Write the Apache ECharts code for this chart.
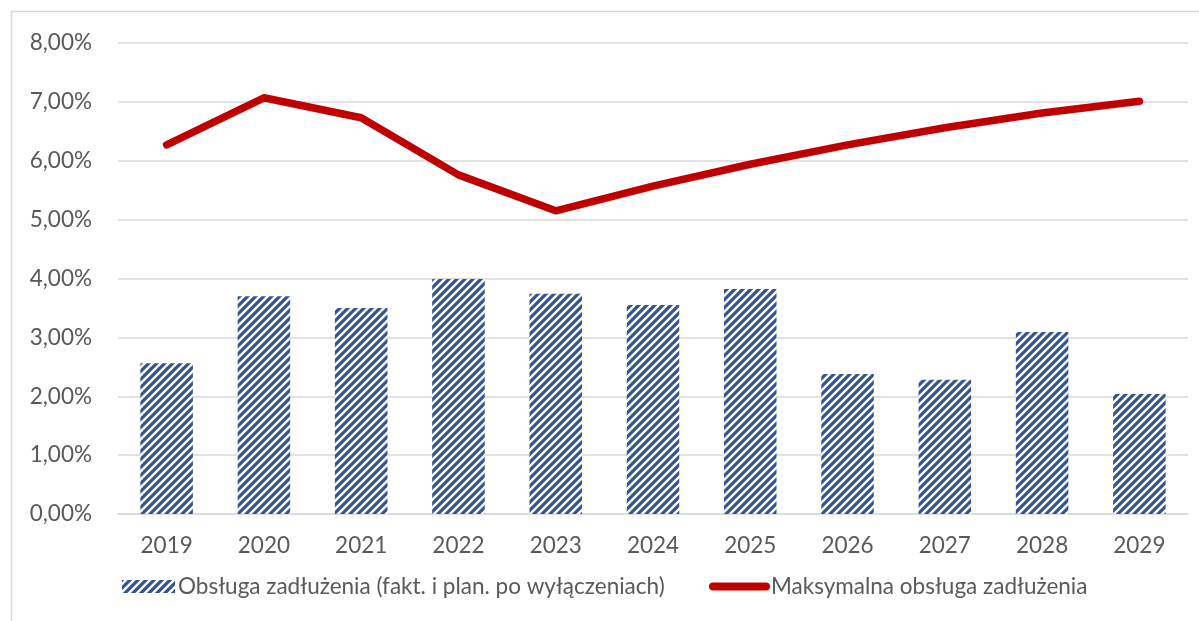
<!DOCTYPE html>
<html>
<head>
<meta charset="utf-8">
<script src="https://cdn.jsdelivr.net/npm/echarts@6/dist/echarts.min.js"></script>
<style>html,body{margin:0;padding:0;background:#fff}#c{width:1199px;height:621px}</style>
</head>
<body>
<div id="c"></div>
<script>
const categories = ['2019','2020','2021','2022','2023','2024','2025','2026','2027','2028','2029'];
const debtService = [2.56, 3.70, 3.50, 3.99, 3.74, 3.55, 3.82, 2.38, 2.28, 3.09, 2.04];
const maxDebtService = [6.27, 7.07, 6.73, 5.76, 5.15, 5.57, 5.94, 6.27, 6.56, 6.81, 7.01];
const yTicks = [0, 1, 2, 3, 4, 5, 6, 7, 8];
const seriesNames = ['Obsługa zadłużenia (fakt. i plan. po wyłączeniach)', 'Maksymalna obsługa zadłużenia'];

function makePattern() {
  const c = document.createElement('canvas');
  c.width = 8; c.height = 8;
  const g = c.getContext('2d');
  g.fillStyle = '#ffffff';
  g.fillRect(0, 0, 8, 8);
  g.strokeStyle = '#2F5597';
  g.lineWidth = 3.2;
  g.beginPath();
  g.moveTo(-2, 10); g.lineTo(10, -2);
  g.moveTo(-6, 6); g.lineTo(6, -6);
  g.moveTo(2, 14); g.lineTo(14, 2);
  g.stroke();
  return c;
}
const pattern = { image: makePattern(), repeat: 'repeat' };
const font = 'Lato, "Open Sans", sans-serif';
const txt = '#595959';
const fs = 22.5;

const chart = echarts.init(document.getElementById('c'), null, { renderer: 'canvas' });
chart.setOption({
  animation: false,
  backgroundColor: '#fff',
  graphic: [{
    type: 'rect', left: 9, top: 9, silent: true,
    shape: { width: 1400, height: 1400 },
    style: { fill: 'none', stroke: '#d9d9d9', lineWidth: 1.5 }
  }],
  grid: { left: 118, right: 11, top: 43, bottom: 107, containLabel: false },
  legend: [{
    data: [{ name: seriesNames[0], icon: 'rect' }],
    left: 122, top: 575, padding: 0,
    itemWidth: 53, itemHeight: 13, itemGap: 3,
    textStyle: { color: txt, fontSize: fs, fontFamily: font, padding: [0, 0, 0, -2] }
  }, {
    data: [{ name: seriesNames[1], icon: 'path://M4,0 H56 A4,4 0 0 1 56,8 H4 A4,4 0 0 1 4,0 Z' }],
    left: 709, top: 575, padding: 0,
    itemWidth: 61, itemHeight: 9,
    textStyle: { color: txt, fontSize: fs, fontFamily: font, padding: [0, 0, 0, -4] }
  }],
  xAxis: {
    type: 'category', data: categories,
    axisLine: { lineStyle: { color: '#d9d9d9', width: 1.5 } },
    axisTick: { show: false },
    axisLabel: { color: txt, fontSize: fs, fontFamily: font, margin: 20 }
  },
  yAxis: {
    type: 'value', min: 0, max: 8, interval: 1,
    axisLine: { show: false }, axisTick: { show: false },
    splitLine: { lineStyle: { color: '#d9d9d9', width: 1.5 } },
    axisLabel: {
      color: txt, fontSize: fs, fontFamily: font, margin: 26,
      formatter: v => yTicks.includes(v) ? v.toFixed(2).replace('.', ',') + '%' : ''
    }
  },
  series: [{
    name: seriesNames[0], type: 'bar', data: debtService,
    barWidth: '54%',
    itemStyle: { color: pattern }
  }, {
    name: seriesNames[1], type: 'line', data: maxDebtService,
    color: '#C00000',
    showSymbol: false, symbol: 'none',
    lineStyle: { color: '#C00000', width: 7.5, cap: 'round', join: 'round' },
    itemStyle: { color: '#C00000' }
  }]
});
</script>
</body>
</html>
